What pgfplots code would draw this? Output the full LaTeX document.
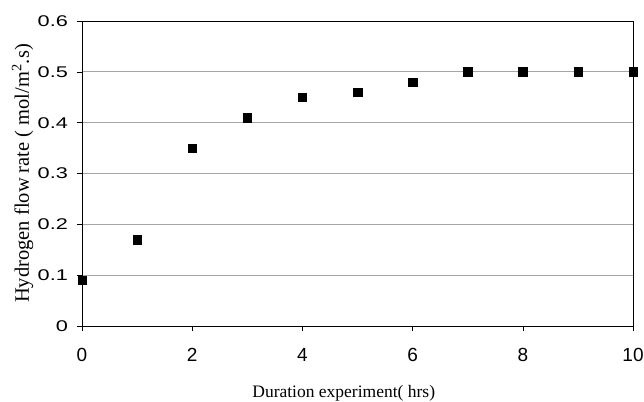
\documentclass[border=0pt]{standalone}
\usepackage{pgfplots}
\pgfplotsset{compat=1.18}
\usepackage{fontspec}
\setmainfont{Liberation Serif}
\newfontfamily\arial{Liberation Sans}
\begin{document}
\begin{tikzpicture}
\path[use as bounding box] (0,0) rectangle (644bp,402bp);
\begin{axis}[
  at={(82bp,76bp)}, anchor=south west,
  scale only axis, width=551bp, height=305bp,
  xmin=0, xmax=10, ymin=0, ymax=0.6,
  xtick={0,2,4,6,8,10},
  ytick={0,0.1,0.2,0.3,0.4,0.5,0.6},
  yticklabels={0,0.1,0.2,0.3,0.4,0.5,0.6},
  xticklabels={0,2,4,6,8,10},
  tick align=outside, xtick pos=left, ytick pos=left,
  major tick length=5bp,
  tick style={black, line width=0.6bp},
  axis line style={black, line width=0.9bp},
  ymajorgrids, grid style={gray!70, line width=0.7bp},
  xticklabel style={font=\arial\fontsize{19bp}{21bp}\selectfont, yshift=-14bp},
  yticklabel style={font=\arial\fontsize{15.5bp}{17bp}\selectfont, xscale=1.4, xshift=-3bp},
  xlabel={Duration experiment( hrs)},
  ylabel={Hydrogen flow rate ( mol/m\textsuperscript{2}.s)},
  xlabel style={font=\fontsize{17.5bp}{20bp}\selectfont, at={(axis description cs:0.475,-0.233)}, anchor=base},
  ylabel style={font=\fontsize{20.5bp}{22bp}\selectfont, at={(axis description cs:-0.108,0.5)}, anchor=center},
  clip=false,
]
\addplot[only marks, mark=square*, mark size=4.2bp, black] coordinates {
(0,0.09) (1,0.17) (2,0.35) (3,0.41) (4,0.45) (5,0.46) (6,0.48) (7,0.5) (8,0.5) (9,0.5) (10,0.5)
};
\end{axis}
\end{tikzpicture}
\end{document}
